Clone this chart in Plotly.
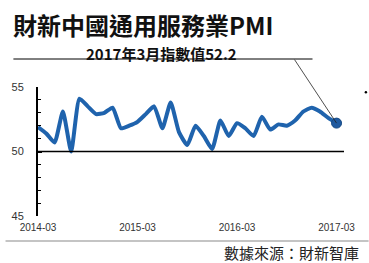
import plotly.graph_objects as go

months = ["2014-03","2014-04","2014-05","2014-06","2014-07","2014-08","2014-09","2014-10","2014-11","2014-12",
          "2015-01","2015-02","2015-03","2015-04","2015-05","2015-06","2015-07","2015-08","2015-09","2015-10","2015-11","2015-12",
          "2016-01","2016-02","2016-03","2016-04","2016-05","2016-06","2016-07","2016-08","2016-09","2016-10","2016-11","2016-12",
          "2017-01","2017-02","2017-03"]
pmi = [51.9, 51.4, 50.7, 53.1, 50.0, 54.1, 53.5, 52.9, 53.0, 53.4,
       51.8, 52.0, 52.3, 52.9, 53.5, 51.8, 53.8, 51.5, 50.5, 52.0, 51.2, 50.2,
       52.4, 51.2, 52.2, 51.8, 51.2, 52.7, 51.7, 52.1, 52.0, 52.4, 53.1, 53.4,
       53.1, 52.6, 52.2]
tick_labels = ["2014-03", "2015-03", "2016-03", "2017-03"]
y_ticks = [45, 50, 55]

W, H = 369, 263
L, R, T, B = 33, 25, 87, 47
PW, PH = W - L - R, H - T - B

def px(x):
    return (x - L) / PW

def py(y):
    return (H - B - y) / PH

xs = list(range(len(months)))
tick_pos = [months.index(t) for t in tick_labels]

fig = go.Figure()
fig.add_trace(go.Scatter(x=xs, y=pmi, mode="lines", line=dict(color="#1f63ad", width=4, shape="spline", smoothing=0.5),
                         hoverinfo="skip", showlegend=False))
fig.add_trace(go.Scatter(x=[xs[-1]], y=[pmi[-1]], mode="markers",
                         marker=dict(color="#1f5aa0", size=10, line=dict(color="#174a85", width=1)),
                         hoverinfo="skip", showlegend=False))

# reference line at 50
fig.add_shape(type="line", xref="x", yref="y", x0=0, x1=36.9, y0=50, y1=50,
              line=dict(color="black", width=1.5))

# title underline and pointer
fig.add_shape(type="line", xref="paper", yref="paper", x0=px(8), x1=px(312), y0=py(59), y1=py(59),
              line=dict(color="black", width=1))
fig.add_annotation(x=xs[-1], y=pmi[-1], xref="x", yref="y", ax=-43, ay=-65,
                   text="", showarrow=True, arrowhead=0, arrowwidth=0.8, arrowcolor="#222")
# stray dot
fig.add_shape(type="circle", xref="paper", yref="paper", x0=px(365), x1=px(367.5), y0=py(91), y1=py(93.5),
              fillcolor="black", line=dict(color="black", width=0))

# bottom gray rule
fig.add_shape(type="line", xref="paper", yref="paper", x0=px(0), x1=px(369), y0=py(241), y1=py(241),
              line=dict(color="#b0b0b0", width=1.5))

fig.add_annotation(x=px(7), y=py(24.5), xref="paper", yref="paper", xanchor="left", yanchor="middle",
                   text="<b>財新中國通用服務業PMI</b>", showarrow=False, borderpad=0,
                   font=dict(family="Noto Sans CJK TC", size=24, color="#111"))
fig.add_annotation(x=px(159), y=py(53), xref="paper", yref="paper", xanchor="center", yanchor="middle",
                   text="<b>2017年3月指數值52.2</b>", showarrow=False, borderpad=0,
                   font=dict(family="Noto Sans CJK TC", size=15, color="#111"))
fig.add_annotation(x=px(361), y=py(252), xref="paper", yref="paper", xanchor="right", yanchor="middle",
                   text="數據來源：財新智庫", showarrow=False,
                   font=dict(family="Noto Sans CJK TC", size=15, color="#222"))

fig.update_layout(
    width=W, height=H, margin=dict(l=L, r=R, t=T, b=B),
    paper_bgcolor="white", plot_bgcolor="white",
    xaxis=dict(range=[0, 36.9], tickvals=tick_pos, ticktext=tick_labels, showgrid=False, zeroline=False,
               showline=False, ticks="", tickfont=dict(family="Liberation Sans", size=10, color="#333"),
               ticklabelstandoff=4, fixedrange=True),
    yaxis=dict(range=[45, 55], tickvals=y_ticks, showgrid=False, zeroline=False, showline=True,
               linecolor="black", linewidth=2, ticks="inside", ticklen=4, tickcolor="black", tickwidth=1.5,
               minor=dict(dtick=1, ticks="inside", ticklen=3, tickcolor="black", tickwidth=1),
               tickfont=dict(family="Liberation Sans", size=11, color="#333"), ticklabelstandoff=10,
               fixedrange=True),
)

fig.write_html("out.html")
